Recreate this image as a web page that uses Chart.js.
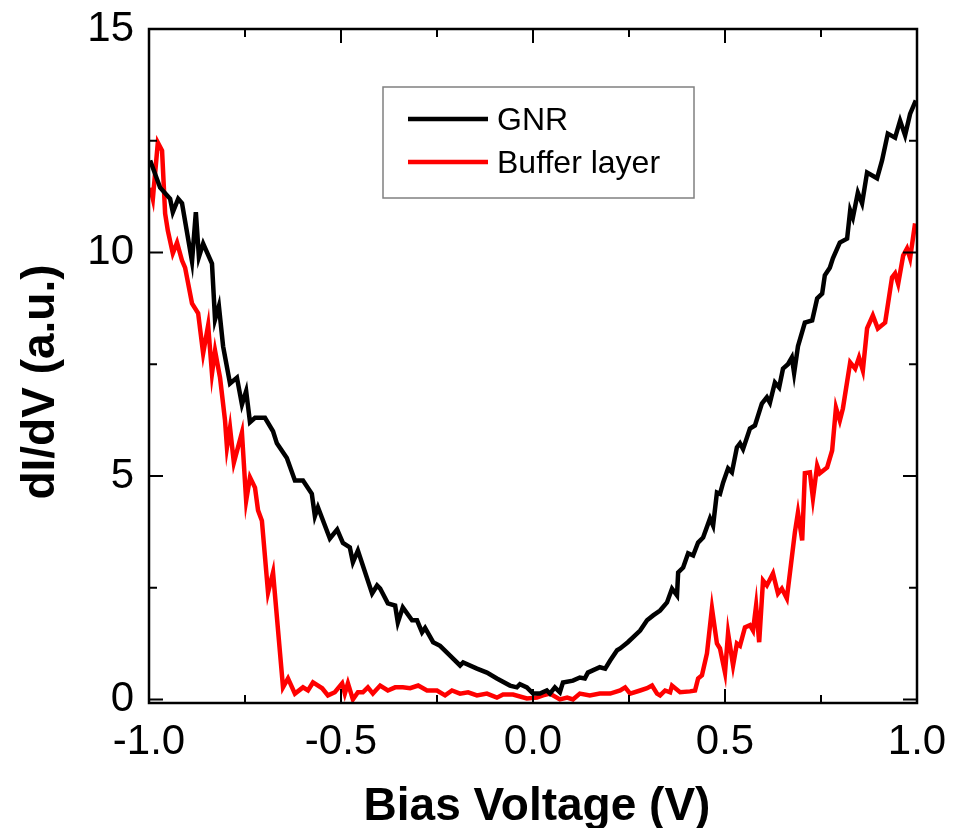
<!DOCTYPE html>
<html>
<head>
<meta charset="utf-8">
<script src="https://cdn.jsdelivr.net/npm/chart.js@4.4.1/dist/chart.umd.min.js"></script>
<style>
  body { margin: 0; background: #fff; }
  #wrap { width: 963px; height: 828px; }
</style>
</head>
<body>
<div id="wrap"><canvas id="stsChart" width="963" height="828"></canvas></div>
<script>
// bias voltage (V) and dI/dV (a.u.)
const gnrV = [-0.997,-0.971,-0.945,-0.938,-0.924,-0.914,-0.888,-0.878,-0.870,-0.859,
  -0.836,-0.828,-0.818,-0.807,-0.789,-0.771,-0.758,-0.747,-0.737,-0.724,
  -0.698,-0.677,-0.667,-0.641,-0.620,-0.599,-0.576,-0.568,-0.560,-0.529,
  -0.510,-0.495,-0.477,-0.469,-0.456,-0.419,-0.406,-0.398,-0.378,-0.359,
  -0.352,-0.339,-0.315,-0.302,-0.289,-0.281,-0.260,-0.242,-0.216,-0.190,
  -0.182,-0.146,-0.120,-0.094,-0.060,-0.042,-0.034,-0.016,0.000,0.018,
  0.036,0.044,0.057,0.070,0.078,0.104,0.122,0.135,0.143,0.174,
  0.188,0.201,0.219,0.227,0.247,0.279,0.297,0.313,0.331,0.349,
  0.362,0.375,0.378,0.391,0.404,0.417,0.430,0.443,0.461,0.469,
  0.479,0.487,0.495,0.508,0.518,0.531,0.539,0.547,0.565,0.578,
  0.596,0.609,0.617,0.630,0.641,0.651,0.664,0.674,0.680,0.690,
  0.708,0.727,0.740,0.753,0.760,0.773,0.781,0.799,0.818,0.826,
  0.833,0.846,0.857,0.870,0.896,0.909,0.924,0.943,0.956,0.969,
  0.982,0.997];
const gnrI = [12.06,11.45,11.2,10.9,11.2,11.1,9.8,10.9,9.9,10.2,
  9.75,8.5,8.8,7.9,7.07,7.2,6.6,6.9,6.2,6.3,
  6.3,6.0,5.73,5.4,4.9,4.9,4.6,4.1,4.3,3.6,
  3.8,3.5,3.4,3.07,3.33,2.37,2.55,2.48,2.15,2.1,
  1.72,2.06,1.77,1.77,1.5,1.6,1.28,1.2,0.98,0.76,
  0.83,0.69,0.6,0.47,0.31,0.27,0.34,0.27,0.13,0.13,
  0.2,0.13,0.27,0.16,0.38,0.42,0.49,0.47,0.6,0.72,
  0.69,0.87,1.1,1.14,1.28,1.54,1.77,1.88,1.99,2.17,
  2.48,2.33,2.84,2.95,3.27,3.22,3.51,3.62,4.05,3.89,
  4.63,4.6,4.85,5.17,5.08,5.64,5.73,5.6,6.06,6.13,
  6.62,6.76,6.64,7.09,6.98,7.4,7.5,7.65,7.3,7.9,
  8.43,8.48,8.97,9.08,9.49,9.66,9.87,10.22,10.31,10.94,
  10.78,11.34,11.1,11.79,11.66,12.06,12.66,12.57,12.95,12.62,
  13.1,13.4];

const bufV = [-0.997,-0.990,-0.977,-0.966,-0.958,-0.951,-0.938,-0.927,-0.914,-0.906,
  -0.888,-0.872,-0.859,-0.846,-0.836,-0.828,-0.815,-0.802,-0.797,-0.789,
  -0.779,-0.758,-0.747,-0.737,-0.724,-0.716,-0.706,-0.690,-0.677,-0.651,
  -0.638,-0.620,-0.599,-0.586,-0.573,-0.549,-0.534,-0.516,-0.497,-0.490,
  -0.482,-0.469,-0.456,-0.443,-0.430,-0.417,-0.398,-0.378,-0.359,-0.339,
  -0.320,-0.299,-0.276,-0.250,-0.229,-0.211,-0.190,-0.169,-0.146,-0.120,
  -0.094,-0.078,-0.052,-0.016,0.010,0.026,0.044,0.070,0.089,0.104,
  0.122,0.148,0.174,0.201,0.227,0.240,0.253,0.279,0.297,0.310,
  0.323,0.331,0.344,0.357,0.362,0.383,0.409,0.422,0.430,0.440,
  0.453,0.466,0.479,0.487,0.500,0.508,0.521,0.531,0.539,0.552,
  0.565,0.573,0.581,0.589,0.599,0.609,0.625,0.638,0.648,0.661,
  0.682,0.690,0.701,0.708,0.721,0.729,0.740,0.747,0.766,0.779,
  0.789,0.799,0.807,0.826,0.839,0.849,0.859,0.870,0.885,0.898,
  0.917,0.935,0.943,0.951,0.964,0.974,0.982,0.995];
const bufI = [11.45,11.2,12.46,12.28,10.87,10.49,9.98,10.22,9.82,9.66,
  8.86,8.64,7.74,8.37,7.29,7.8,7.2,6.24,5.64,6.08,
  5.3,5.97,4.45,4.97,4.74,4.23,4.0,2.39,2.84,0.27,
  0.47,0.13,0.27,0.2,0.38,0.25,0.09,0.16,0.36,0.13,
  0.36,0.0,0.16,0.16,0.27,0.13,0.31,0.2,0.27,0.27,
  0.25,0.31,0.2,0.2,0.09,0.2,0.13,0.16,0.09,0.13,
  0.04,0.11,0.11,0.02,0.04,0.09,0.13,0.0,0.04,0.0,
  0.13,0.09,0.13,0.13,0.2,0.27,0.13,0.2,0.25,0.31,
  0.13,0.09,0.2,0.16,0.31,0.16,0.18,0.2,0.47,0.54,
  1.03,2.04,1.25,1.14,0.6,1.48,0.76,1.25,1.2,1.61,
  1.66,1.54,2.1,1.28,2.66,2.55,2.82,2.37,2.48,2.26,
  3.74,4.18,3.56,5.06,5.08,4.5,5.23,5.06,5.19,5.57,
  6.53,6.24,6.51,7.54,7.4,7.65,7.36,8.3,8.59,8.3,
  8.43,9.44,9.53,9.3,9.93,10.09,9.87,10.65];

const xTicks = [-1, -0.75, -0.5, -0.25, 0, 0.25, 0.5, 0.75, 1];
const xLabels = ['-1.0', '', '-0.5', '', '0.0', '', '0.5', '', '1.0'];
const yTicks = [0, 2.5, 5, 7.5, 10, 12.5, 15];
const yLabels = ['0', '', '5', '', '10', '', '15'];

const seriesNames = ['GNR', 'Buffer layer'];
const seriesColors = ['#000000', '#ff0000'];

const FONT = '"Liberation Sans", Arial, sans-serif';

// frame with inward ticks on all four sides, axis titles and boxed legend
const framePlugin = {
  id: 'frame',
  afterDraw(chart) {
    const ctx = chart.ctx;
    const a = chart.chartArea;
    const xs = chart.scales.x, ys = chart.scales.y;
    ctx.save();
    ctx.strokeStyle = '#000';
    ctx.lineWidth = 2.5;
    ctx.strokeRect(a.left, a.top, a.right - a.left, a.bottom - a.top);

    ctx.lineWidth = 2;
    ctx.beginPath();
    xTicks.forEach((v, i) => {
      const px = xs.getPixelForValue(v);
      const len = xLabels[i] ? 14 : 8;
      ctx.moveTo(px, a.bottom); ctx.lineTo(px, a.bottom - len);
      ctx.moveTo(px, a.top); ctx.lineTo(px, a.top + len);
    });
    yTicks.forEach((v, i) => {
      const py = ys.getPixelForValue(v);
      const len = yLabels[i] ? 14 : 8;
      ctx.moveTo(a.left, py); ctx.lineTo(a.left + len, py);
      ctx.moveTo(a.right, py); ctx.lineTo(a.right - len, py);
    });
    ctx.stroke();

    // axis titles
    ctx.fillStyle = '#000';
    ctx.font = 'bold 46px ' + FONT;
    ctx.textAlign = 'center';
    ctx.textBaseline = 'alphabetic';
    ctx.fillText('Bias Voltage (V)', 537, 820);
    ctx.save();
    ctx.translate(54, 382);
    ctx.rotate(-Math.PI / 2);
    ctx.fillText('dI/dV (a.u.)', 0, 0);
    ctx.restore();

    // legend
    ctx.strokeStyle = '#808080';
    ctx.lineWidth = 1.5;
    ctx.strokeRect(383, 87, 311, 111);
    ctx.font = '32px ' + FONT;
    ctx.textAlign = 'left';
    const rows = [119, 162];
    chart.data.datasets.forEach((ds, i) => {
      ctx.strokeStyle = ds.borderColor;
      ctx.lineWidth = 4.5;
      ctx.beginPath();
      ctx.moveTo(408, rows[i]);
      ctx.lineTo(488, rows[i]);
      ctx.stroke();
      ctx.fillStyle = '#000';
      ctx.fillText(ds.label, 497, rows[i] + 11);
    });
    ctx.restore();
  }
};

const data = {
  datasets: [
    {
      label: seriesNames[0],
      data: gnrV.map((v, i) => ({ x: v, y: gnrI[i] })),
      borderColor: seriesColors[0],
      borderWidth: 4.5,
      pointRadius: 0,
      tension: 0
    },
    {
      label: seriesNames[1],
      data: bufV.map((v, i) => ({ x: v, y: bufI[i] })),
      borderColor: seriesColors[1],
      borderWidth: 4.5,
      pointRadius: 0,
      tension: 0
    }
  ]
};

const config = {
  type: 'line',
  data: data,
  options: {
    responsive: false,
    animation: false,
    layout: { padding: { top: 29, right: 46, left: 0, bottom: 0 } },
    plugins: {
      legend: { display: false },
      tooltip: { enabled: false }
    },
    scales: {
      x: {
        type: 'linear',
        min: -1,
        max: 1,
        afterBuildTicks: axis => { axis.ticks = xTicks.map(v => ({ value: v })); },
        afterFit: axis => { axis.height = 125; axis.paddingLeft = 0; axis.paddingRight = 0; },
        grid: { display: false, drawTicks: false },
        border: { display: false },
        ticks: {
          autoSkip: false,
          maxRotation: 0,
          padding: 14,
          color: '#000',
          font: { family: FONT, size: 42 },
          callback: (v, i) => xLabels[i]
        }
      },
      y: {
        min: -0.08,
        max: 15,
        afterBuildTicks: axis => { axis.ticks = yTicks.map(v => ({ value: v })); },
        afterFit: axis => { axis.width = 149; axis.paddingTop = 0; axis.paddingBottom = 0; },
        grid: { display: false, drawTicks: false },
        border: { display: false },
        ticks: {
          autoSkip: false,
          padding: 15,
          color: '#000',
          font: { family: FONT, size: 42 },
          callback: (v, i) => yLabels[i]
        }
      }
    }
  },
  plugins: [framePlugin]
};

const ctx = document.getElementById('stsChart').getContext('2d');
window.myChart = new Chart(ctx, config);
</script>
</body>
</html>
